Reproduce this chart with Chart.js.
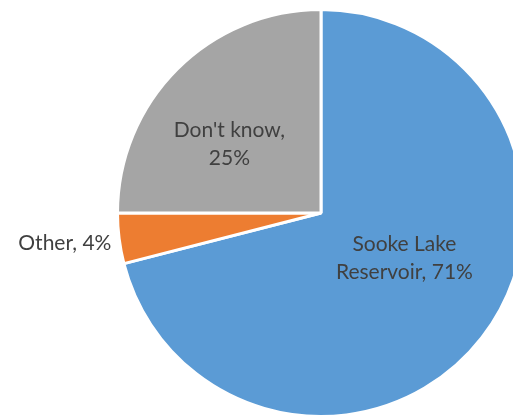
<!DOCTYPE html>
<html>
<head>
<meta charset="utf-8">
<script src="https://cdn.jsdelivr.net/npm/chart.js@4"></script>
<style>
  html, body { margin: 0; padding: 0; background: #fff; overflow: hidden; }
  #wrap { position: absolute; left: 0; top: 0; width: 526px; height: 419px; }
</style>
</head>
<body>
<div id="wrap"><canvas id="myChart"></canvas></div>
<script>
/* données du camembert */
const categories = ['Sooke Lake Reservoir', 'Other', "Don't know"];
const values = [71, 4, 25];
const sliceColors = ['#5B9BD5', '#ED7D31', '#A5A5A5'];
// lignes de texte des étiquettes
const labelLines = [['Sooke Lake', 'Reservoir, 71%'], ['Other, 4%'], ["Don't know,", '25%']];

// position des étiquettes, en fraction du rayon (dx, dy) et alignement
const labelPos = [
  { dx: 0.41, dy: 0.22, align: 'center' },
  { dx: -1.03, dy: 0.15, align: 'right' },
  { dx: -0.45, dy: -0.34, align: 'center' }
];

const pieLabels = {
  id: 'pieLabels',
  afterDatasetsDraw(chart) {
    const c = chart.ctx;
    const arcs = chart.getDatasetMeta(0).data;
    c.save();
    c.font = '21px Lato, "Open Sans", sans-serif';
    c.fillStyle = '#404040';
    c.textBaseline = 'middle';
    arcs.forEach((arc, i) => {
      const r = arc.outerRadius;
      const x = arc.x + labelPos[i].dx * r;
      const y = arc.y + labelPos[i].dy * r;
      const lines = labelLines[i];
      const lh = 28;
      c.textAlign = labelPos[i].align;
      lines.forEach((t, k) => {
        c.fillText(t, x, y + (k - (lines.length - 1) / 2) * lh);
      });
    });
    c.restore();
  }
};

const ctx = document.getElementById('myChart').getContext('2d');
const myChart = new Chart(ctx, {
  type: 'pie',
  data: {
    labels: categories,
    datasets: [{
      data: values,
      backgroundColor: sliceColors,
      borderColor: '#ffffff',
      borderWidth: 3
    }]
  },
  options: {
    responsive: true,
    maintainAspectRatio: false,
    animation: false,
    layout: { padding: { left: 116, top: 7, right: 0, bottom: 0 } },
    plugins: {
      legend: { display: false },
      tooltip: { enabled: false }
    }
  },
  plugins: [pieLabels]
});
</script>
</body>
</html>
